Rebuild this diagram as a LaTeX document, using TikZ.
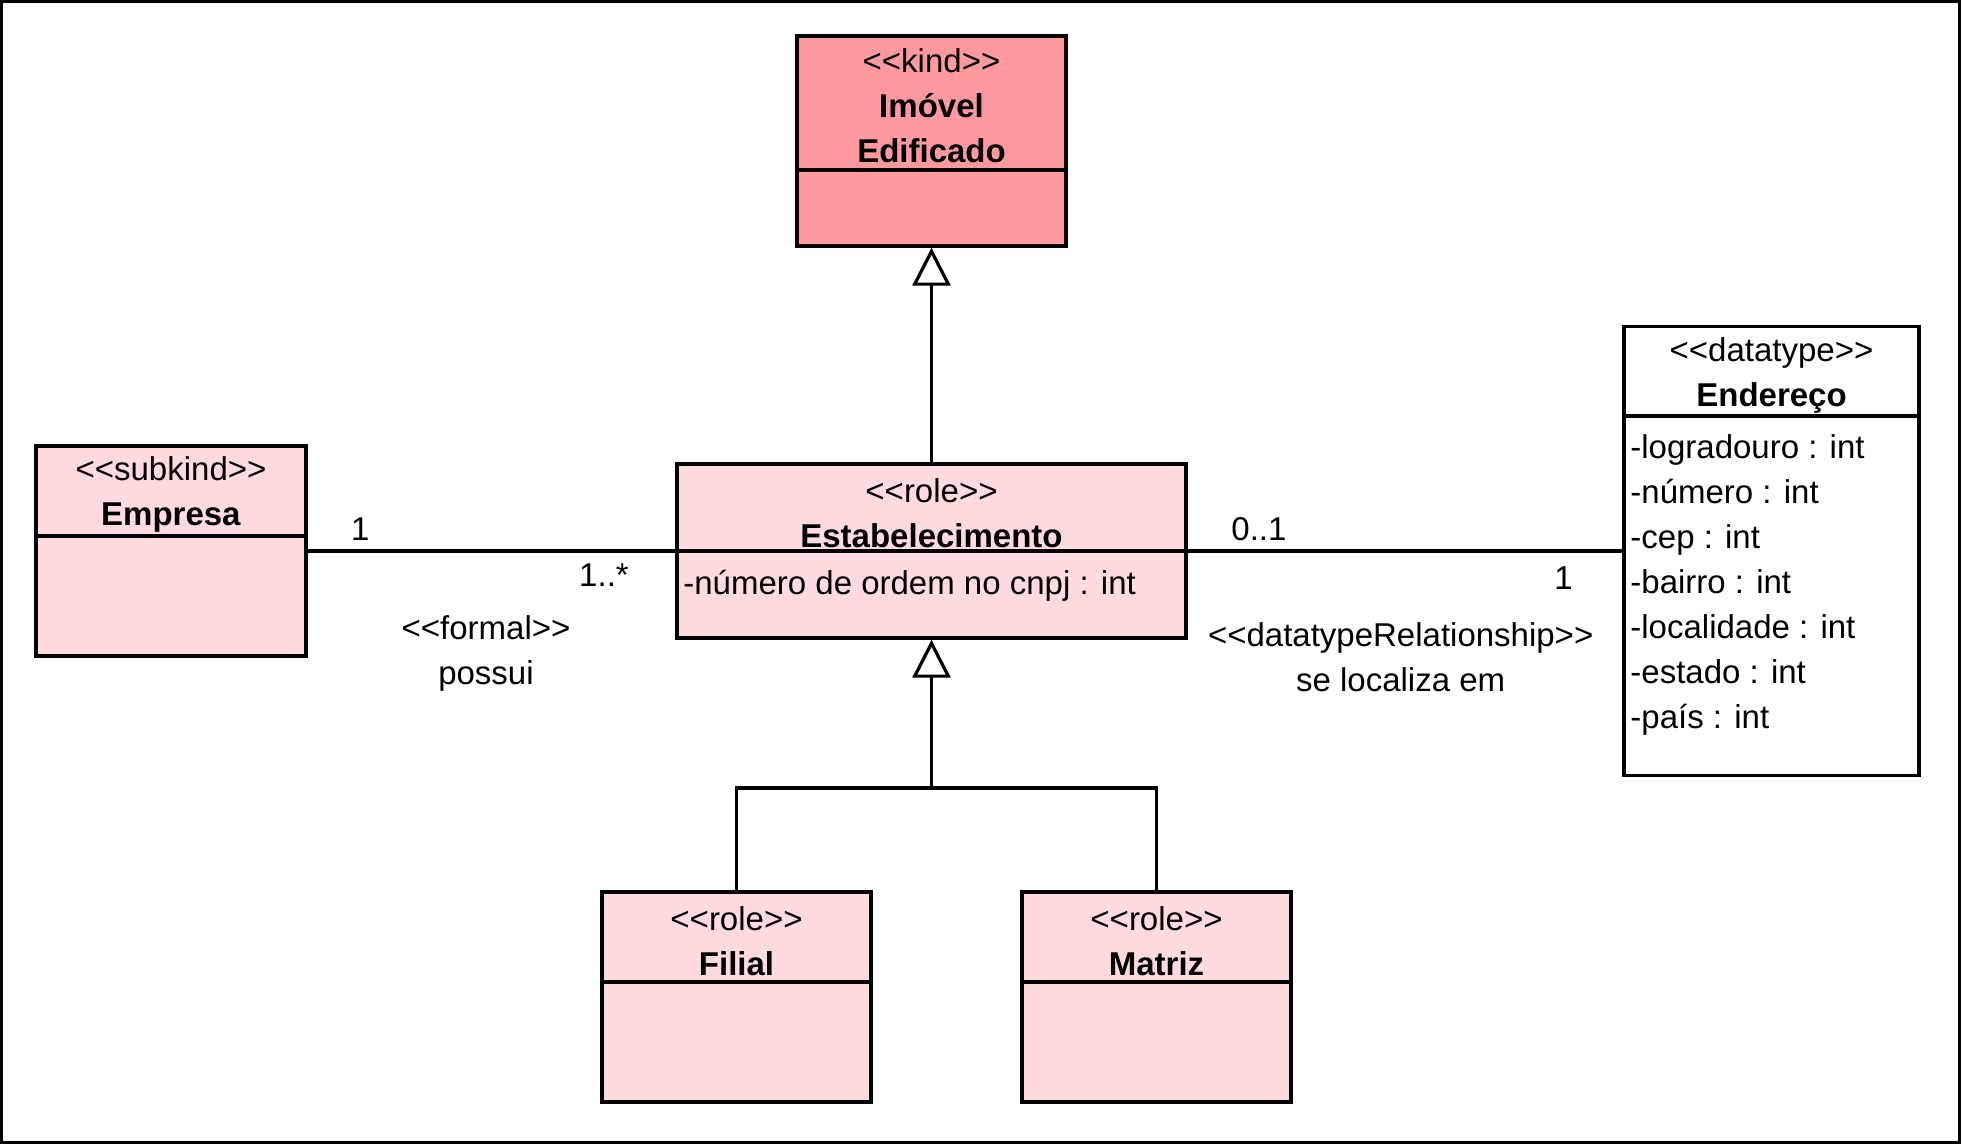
\documentclass[tikz,border=0pt]{standalone}
\usepackage{fontspec}
\setmainfont{Liberation Sans}
\usetikzlibrary{arrows.meta}

\definecolor{rolepink}{RGB}{255,218,223}
\definecolor{kindpink}{RGB}{255,153,160}
\newcommand{\umlst}[1]{<{}<#1>{}>}

\tikzset{
  classbox/.style={draw, line width=1.7pt, fill=rolepink, inner sep=0pt},
  umltext/.style={font=\fontsize{16.5}{22.5}\selectfont, inner sep=0pt, align=center},
  assoc/.style={line width=1.6pt},
  gen/.style={line width=1.6pt, -{Triangle[open, length=19pt, width=19pt]}},
}

\begin{document}
\begin{tikzpicture}[x=0.5pt, y=-0.5pt]
    \useasboundingbox (0,0) rectangle (1962,1146);
    \draw[line width=1.5pt] (1.5,1.5) rectangle (1959.5,1142.5);

    % classes
    \node[classbox, fill=kindpink, minimum width=134.5pt, minimum height=105pt] (imovel) at (931.5,141) {};
    \node[classbox, minimum width=135pt, minimum height=105pt] (empresa) at (171,551) {};
    \node[classbox, minimum width=254.5pt, minimum height=87pt] (estab) at (931.5,551) {};
    \node[classbox, fill=white, minimum width=147.5pt, minimum height=224.5pt] (endereco) at (1771.5,551) {};
    \node[classbox, minimum width=134.5pt, minimum height=105pt] (filial) at (736.5,997) {};
    \node[classbox, minimum width=134.5pt, minimum height=105pt] (matriz) at (1156.5,997) {};

    \draw[line width=1.7pt] (imovel.west |- 0,170) -- (imovel.east |- 0,170);
    \draw[line width=1.7pt] (empresa.west |- 0,536) -- (empresa.east |- 0,536);
    \draw[line width=1.7pt] (estab.west |- 0,551) -- (estab.east |- 0,551);
    \draw[line width=1.7pt] (endereco.west |- 0,416) -- (endereco.east |- 0,416);
    \draw[line width=1.7pt] (filial.west |- 0,982) -- (filial.east |- 0,982);
    \draw[line width=1.7pt] (matriz.west |- 0,982) -- (matriz.east |- 0,982);

    \node[umltext] (imovel-name) at (931.5,106) {\umlst{kind}\\\textbf{Imóvel}\\\textbf{Edificado}};
    \node[umltext] (empresa-name) at (171,494) {\umlst{subkind}\\\textbf{Empresa}};
    \node[umltext] (estab-name) at (931.5,513) {\umlst{role}\\\textbf{Estabelecimento}};
    \node[umltext, anchor=west] (estab-attr) at (683,586) {-número de ordem no cnpj : int};
    \node[umltext] (endereco-name) at (1771.5,375) {\umlst{datatype}\\\textbf{Endereço}};
    \node[umltext, align=left, anchor=west] (endereco-attr) at (1630,585) {-logradouro : int\\-número : int\\-cep : int\\-bairro : int\\-localidade : int\\-estado : int\\-país : int};
    \node[umltext] (filial-name) at (736.5,941) {\umlst{role}\\\textbf{Filial}};
    \node[umltext] (matriz-name) at (1156.5,941) {\umlst{role}\\\textbf{Matriz}};

    % associations
    \draw[assoc] (empresa) -- (estab)
        node[umltext, pos=0.143, yshift=11pt] (mult-empresa) {1}
        node[umltext, pos=0.806, yshift=-12pt] (mult-estab) {1..*}
        node[umltext, pos=0.485, yshift=-51pt] (formal) {\umlst{formal}\\possui};
    \draw[assoc] (estab) -- (endereco)
        node[umltext, pos=0.164, yshift=11pt] (mult-local) {0..1}
        node[umltext, pos=0.865, yshift=-13.5pt] (mult-end) {1}
        node[umltext, pos=0.49, yshift=-53pt] (dtrel) {\umlst{datatypeRelationship}\\se localiza em};

    % generalizations
    \draw[gen] (estab) -- (imovel);
    \coordinate (split) at (estab.south |- 0,788);
    \draw[gen] (split) -- (estab);
    \draw[assoc] (filial.north) |- (matriz.north |- split) -- (matriz.north);
\end{tikzpicture}
\end{document}
